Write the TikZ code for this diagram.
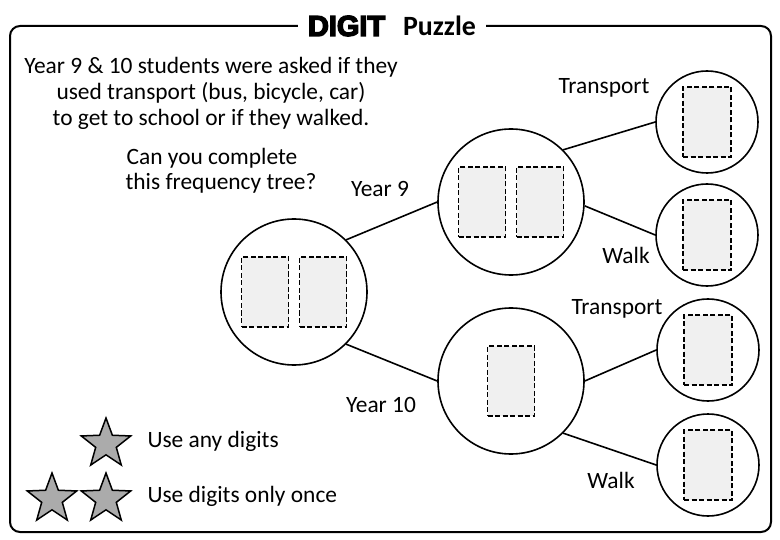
\documentclass[tikz,border=0pt]{standalone}
\usepackage{fontspec}
\setmainfont{Carlito}
\newfontfamily\digitfont[FakeBold=5]{Liberation Sans}
\usepackage{tikz}
\usetikzlibrary{shapes.geometric}

\tikzset{
  bub/.style={draw, circle, line width=1.6bp, minimum size=146bp, inner sep=0pt},
  leaf/.style={bub, minimum size=102bp},
  slot/.style={draw, dash pattern=on 5bp off 2.5bp, line width=1.6bp, fill=black!6, minimum width=47bp, minimum height=70bp, inner sep=0pt},
  branch/.style={line width=1.6bp},
  badge/.style={draw, star, star points=5, star point ratio=2.4, minimum size=52bp, inner sep=0pt, line width=1.5bp, fill=black!33},
}

\begin{document}
\begin{tikzpicture}[x=1bp, y=-1bp, font=\fontsize{23.5}{26}\selectfont]
\useasboundingbox (0,0) rectangle (780,540);
\node[inner xsep=10bp, inner ysep=0pt] (title) at (392,26) {{\fontsize{29}{30}\digitfont\bfseries DIGIT}\hspace{18bp}{\fontsize{28}{30}\selectfont\bfseries Puzzle}};
\draw[line width=2bp, rounded corners=10bp] (title.west) -- (10,26) -- (10,532) -- (771,532) -- (771,26) -- (title.east);

\node[bub] (0) at (294,292) {};
\node[bub] (1) at (511,202) {};
\node[bub] (2) at (511,381) {};
\node[leaf] (3) at (707,122) {};
\node[leaf] (4) at (707,235) {};
\node[leaf] (5) at (708,350) {};
\node[leaf] (6) at (708,465) {};

\node[slot] (s0a) at ([xshift=-29bp]0.center) {};
\node[slot] (s0b) at ([xshift=29bp]0.center) {};
\node[slot] (s1a) at ([xshift=-29bp]1.center) {};
\node[slot] (s1b) at ([xshift=29bp]1.center) {};
\node[slot] (s2) at (2) {};
\foreach \n in {3,...,6}
  \node[slot, minimum width=48bp] (s\n) at (\n) {};

\draw[branch] (0.45) -- (1.180);
\draw[branch] (0.-45) -- (2.180);
\draw[branch] (1.45) -- (3.180);
\draw[branch] (1.-3) -- (4.180);
\draw[branch] (2.0) -- (5.180);
\draw[branch] (2.-45) -- (6.180);

\node (t1) at (604,88) {Transport};
\node (w1) at (626,255) {Walk};
\node (t2) at (617,309) {Transport};
\node (w2) at (611,480) {Walk};
\node (y9) at (380,189) {Year 9};
\node (y10) at (381,405) {Year 10};

\node[align=center] (intro) at (211,93) {Year 9 \& 10 students were asked if they\\used transport (bus, bicycle, car)\\to get to school or if they walked.};
\node (ask1) at (212,158) {Can you complete};
\node (ask2) at (221,183) {this frequency tree?};

\node[badge] (b1) at (106,444) {};
\node[badge] (b2) at (52,499) {};
\node[badge] (b3) at (106,499) {};
\node[anchor=west] (k1) at (144,441) {Use any digits};
\node[anchor=west] (k2) at (144,496) {Use digits only once};
\end{tikzpicture}
\end{document}
